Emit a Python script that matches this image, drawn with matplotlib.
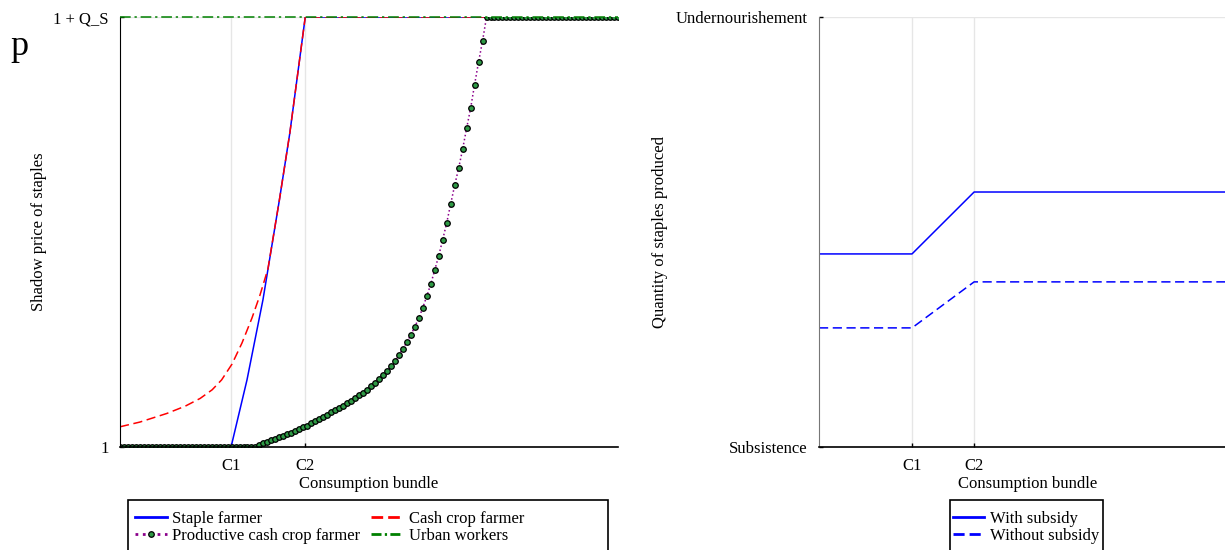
import numpy as np
import matplotlib.pyplot as plt
from matplotlib.patches import Rectangle

plt.rcParams['font.family'] = ['Liberation Serif', 'DejaVu Serif']
plt.rcParams['font.size'] = 12

# consumption bundle thresholds
C1 = 2.23
C2 = 3.72
X_MAX = 10.0
Q_S = 1.0

# shadow price of staples by household type
staple_x = [0.0, C1, 2.55, 2.87, 3.20, 3.41, C2, X_MAX]
staple_y = [1.0, 1.0, 1.156, 1.342, 1.574, 1.730, 2.0, 2.0]

cash_x = [0.0, 0.40, 0.94, 1.31, 1.61, 1.85, 2.04, 2.25, 2.45, 2.65, 2.81,
          2.97, 3.20, 3.41, C2, X_MAX]
cash_y = [1.047, 1.058, 1.078, 1.095, 1.113, 1.133, 1.156, 1.193, 1.242,
          1.300, 1.353, 1.414, 1.574, 1.730, 2.0, 2.0]

prod_rise = [1.0047, 1.0086, 1.0121, 1.0156, 1.0188, 1.0223, 1.0256, 1.0295,
             1.0335, 1.0374, 1.0416, 1.0456, 1.0498, 1.0549, 1.0598, 1.0649,
             1.0700, 1.0751, 1.0805, 1.0856, 1.0909, 1.0963, 1.1014, 1.1072,
             1.1137, 1.1200, 1.1265, 1.1333, 1.1416, 1.1500, 1.1584, 1.1665,
             1.1772, 1.1881, 1.2002, 1.2142, 1.2281, 1.2442, 1.2607, 1.2798,
             1.2995, 1.3240, 1.3507, 1.3788, 1.4114, 1.4449, 1.4821, 1.5212,
             1.5649, 1.6086, 1.6484, 1.6926, 1.7412, 1.7874, 1.8426, 1.8953,
             1.9444]
prod_y = [1.0] * 35 + prod_rise + [2.0] * 34
prod_x = np.linspace(0, X_MAX, len(prod_y))

urban_x = [0.0, X_MAX]
urban_y = [1 + Q_S, 1 + Q_S]

# staples produced, with and without subsidy
sub_x = [0.0, C1, C2, X_MAX]
with_sub = [0.449, 0.449, 0.593, 0.593]
without_sub = [0.277, 0.277, 0.384, 0.384]

fig = plt.figure(figsize=(12.25, 5.5), dpi=100)
W, H = 1225, 550
ax1 = fig.add_axes([120 / W, 103 / H, 498 / W, 430 / H])
ax2 = fig.add_axes([819 / W, 103 / H, 417 / W, 430 / H])

fig.text(10 / W, 1 - 55 / H, 'p', fontsize=26)

# left panel
l_staple, = ax1.plot(staple_x, staple_y, color='#0000ff', lw=1.1)
l_cash, = ax1.plot(cash_x, cash_y, color='#ff0000', lw=1.1, dashes=(6, 3))
l_prod, = ax1.plot(prod_x, prod_y, color='#8b008b', lw=1.1, ls=':',
                   marker='o', ms=4, mfc='#2e9a45', mec='black', mew=0.9)
l_urban, = ax1.plot(urban_x, urban_y, color='#008000', lw=1.1,
                    dashes=(7, 2.5, 1.5, 2.5), clip_on=False, zorder=4)

ax1.set_xlim(0, X_MAX)
ax1.set_ylim(1, 1 + Q_S)
ax1.set_xticks([C1, C2])
ax1.set_xticklabels(['C1', 'C2'])
ax1.set_yticks([1, 1 + Q_S])
ax1.set_yticklabels(['1', '1 + Q_S'])
ax1.set_xlabel('Consumption bundle')
ax1.set_ylabel('Shadow price of staples')
ax1.xaxis.set_label_coords(0.5, -0.067)
ax1.yaxis.set_label_coords(-0.146, 0.5)
ax1.spines['top'].set_visible(False)
ax1.spines['right'].set_visible(False)
ax1.spines['bottom'].set_linewidth(1.2)

leg_kw = dict(bbox_transform=fig.transFigure, frameon=False, borderpad=0.65,
              labelspacing=0.05, handlelength=1.9, handletextpad=0.35,
              borderaxespad=0, numpoints=1)

leg1 = ax1.legend([l_staple, l_prod, l_cash, l_urban],
                  ['Staple farmer', 'Productive cash crop farmer',
                   'Cash crop farmer', 'Urban workers'],
                  ncol=2, loc='upper left', bbox_to_anchor=(124 / W, 50 / H),
                  columnspacing=0.65, **leg_kw)
# legend box runs wider than its entries and past the bottom edge
fig.patches.append(Rectangle((128 / W, -10 / H), 480 / W, 60 / H,
                             transform=fig.transFigure, fill=False,
                             edgecolor='black', lw=1.2))

# right panel
l_with, = ax2.plot(sub_x, with_sub, color='#0000ff', lw=1.1)
l_without, = ax2.plot(sub_x, without_sub, color='#0000ff', lw=1.1, dashes=(6, 3))

ax2.set_xlim(0, X_MAX)
ax2.set_ylim(0, 1)
ax2.set_xticks([C1, C2])
ax2.set_xticklabels(['C1', 'C2'])
ax2.set_yticks([0, 1])
ax2.set_yticklabels(['Subsistence', 'Undernourishement'])
ax2.set_xlabel('Consumption bundle')
ax2.set_ylabel('Quantity of staples produced')
ax2.xaxis.set_label_coords(0.5, -0.067)
ax2.yaxis.set_label_coords(-0.362, 0.5)
ax2.spines['top'].set_visible(False)
ax2.spines['right'].set_visible(False)
ax2.spines['left'].set_color('#777777')
ax2.spines['bottom'].set_linewidth(1.2)

leg2 = ax2.legend([l_with, l_without], ['With subsidy', 'Without subsidy'],
                  loc='upper center', bbox_to_anchor=(1026 / W, 50 / H),
                  **leg_kw)
fig.patches.append(Rectangle((950 / W, -10 / H), 153 / W, 60 / H,
                             transform=fig.transFigure, fill=False,
                             edgecolor='black', lw=1.2))

# thicker handles in the legends, with shorter dash patterns
for leg in (leg1, leg2):
    for h in leg.legend_handles:
        h.set_linewidth(2)
h1 = leg1.legend_handles
h1[2].set_dashes((4.2, 1.8))
h1[3].set_dashes((3.6, 1.2, 0.8, 1.2))
leg2.legend_handles[1].set_dashes((4.0, 1.8))

for ax in (ax1, ax2):
    ax.set_axisbelow(True)
    ax.grid(True, color='#e6e6e6', lw=1)
    ax.tick_params(direction='in', length=3, width=1, pad=8, labelsize=12)

fig.savefig('out.png', dpi=100)
